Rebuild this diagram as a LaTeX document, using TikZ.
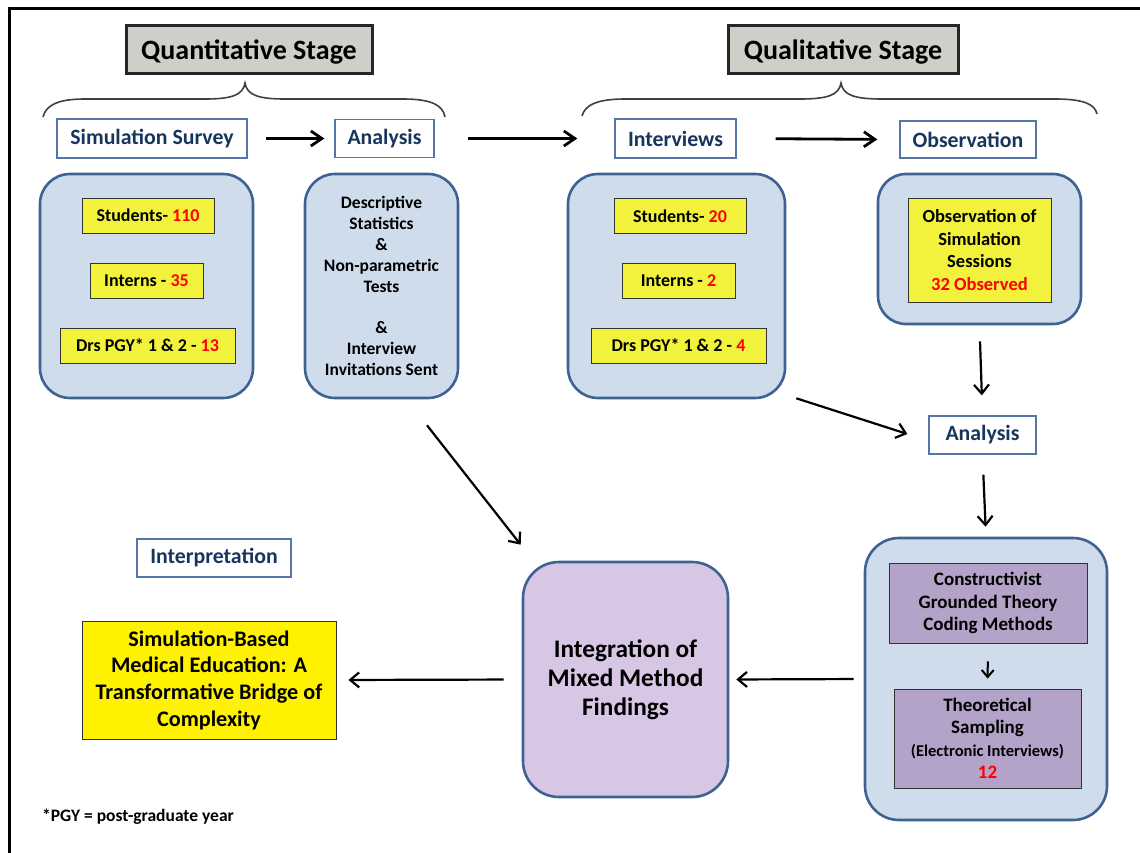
\documentclass[tikz,border=0pt]{standalone}
\usepackage{fontspec}
\setmainfont{Carlito}
\usetikzlibrary{arrows.meta,calc}

\definecolor{panelfill}{RGB}{207,220,236}
\definecolor{panelline}{RGB}{62,98,145}
\definecolor{lblline}{RGB}{84,118,168}
\definecolor{navy}{RGB}{23,54,93}
\definecolor{tagfill}{RGB}{242,242,60}
\definecolor{purpdark}{RGB}{179,163,201}
\definecolor{purplight}{RGB}{216,199,228}
\definecolor{hdrgray}{RGB}{208,206,201}

\begin{document}
\begin{tikzpicture}[x=1pt,y=-1pt,
  font=\bfseries,
  hdr/.style={draw=black!85, line width=3pt, fill=hdrgray, minimum height=48pt,
    inner sep=0pt, text depth=0pt, font=\fontsize{28}{32}\selectfont\bfseries},
  lbl/.style={draw=lblline, line width=1.3pt, fill=white, text=navy, inner sep=0pt,
    font=\fontsize{21.8}{25}\selectfont\bfseries},
  panel/.style={draw=panelline, line width=2.6pt, fill=panelfill, rounded corners=30pt,
    inner sep=0pt, align=center},
  tag/.style={draw=black!80, line width=0.9pt, fill=tagfill, inner sep=0pt,
    minimum height=35pt, font=\fontsize{18}{22}\selectfont\bfseries},
  pbox/.style={draw=black!80, line width=0.9pt, fill=purpdark, inner sep=0pt, align=center,
    font=\fontsize{19}{22.5}\selectfont\bfseries},
  arr/.style={line width=2.2pt, -{Straight Barb[length=9pt,width=15pt]}},
  arrS/.style={line width=2pt, -{Straight Barb[length=7pt,width=12pt]}},
  arrT/.style={line width=2.8pt, -{Straight Barb[length=11pt,width=15pt]}},
  bracepath/.style={line width=1.6pt, draw=black!75}
]
\useasboundingbox (0,0) rectangle (1140,853);

% outer frame (top and left edges)
\draw[line width=3pt] (9,853) -- (9,8.5) -- (1140,8.5);

% stage headers
\node[hdr, minimum width=246pt] (quant) at (249,50) {Quantitative Stage};
\node[hdr, minimum width=230pt] (qual) at (843,50) {Qualitative Stage};

% braces under the headers
\draw[bracepath] (43,117) .. controls (46,105) and (58,99) .. (85,99) -- (205,99)
  .. controls (232,99) and (243,95) .. (245,83)
  .. controls (247,95) and (258,99) .. (285,99) -- (403,99)
  .. controls (431,99) and (443,105) .. (445,117);
\draw[bracepath] (582,116) .. controls (585,105) and (597,99) .. (625,99) -- (800,99)
  .. controls (828,99) and (839,95) .. (841,83)
  .. controls (843,95) and (854,99) .. (882,99) -- (1055,99)
  .. controls (1083,99) and (1095,104) .. (1097,114);

% step labels
\node[lbl, minimum width=190pt, minimum height=39pt] (survey) at (152,138.5) {Simulation Survey};
\node[lbl, minimum width=99pt, minimum height=38pt] (an1) at (384.5,138.5) {Analysis};
\node[lbl, minimum width=121pt, minimum height=39pt] (interv) at (675.5,138.5) {Interviews};
\node[lbl, minimum width=136pt, minimum height=37pt] (observ) at (968,139.5) {Observation};
\node[lbl, minimum width=107pt, minimum height=38pt] (an2) at (982.5,435) {Analysis};
\node[lbl, minimum width=154pt, minimum height=38pt] (interp) at (214,558) {Interpretation};

% survey participants
\node[panel, minimum width=213pt, minimum height=224pt] (boxA) at (146.5,286) {};
\node[tag, minimum width=132pt] (sA1) at (148,215.5) {Students- \textcolor{red}{110}};
\node[tag, minimum width=113pt] (sA2) at (146.5,280.5) {Interns - \textcolor{red}{35}};
\node[tag, minimum width=175pt] (sA3) at (147.5,345.5) {Drs PGY* 1 \& 2 - \textcolor{red}{13}};

% quantitative analysis
\node[panel, minimum width=153pt, minimum height=224pt,
  font=\fontsize{17.5}{20.8}\selectfont\bfseries] (boxB) at (381.5,286)
  {Descriptive\\Statistics\\\&\\Non-parametric\\Tests\\\mbox{}\\\&\\Interview\\Invitations Sent};

% interview participants
\node[panel, minimum width=217pt, minimum height=224pt] (boxC) at (676.5,286) {};
\node[tag, minimum width=132pt] (sC1) at (680,216) {Students- \textcolor{red}{20}};
\node[tag, minimum width=113pt] (sC2) at (678.5,281) {Interns - \textcolor{red}{2}};
\node[tag, minimum width=175pt] (sC3) at (678.5,345.5) {Drs PGY* 1 \& 2 - \textcolor{red}{4}};

% observation sessions
\node[panel, rounded corners=28pt, minimum width=203pt, minimum height=150pt] (boxD) at (979.5,249) {};
\node[tag, minimum width=143pt, minimum height=104pt, align=center,
  font=\fontsize{18.5}{22.5}\selectfont\bfseries] (obsT) at (979.5,250)
  {Observation of\\Simulation\\Sessions\\\textcolor{red}{32 Observed}};

% grounded theory panel
\node[panel, rounded corners=34pt, minimum width=242pt, minimum height=282pt] (boxE) at (986,679) {};
\node[pbox, minimum width=198pt, minimum height=80pt] (p1) at (988,603)
  {Constructivist\\Grounded Theory\\Coding Methods};
\node[pbox, minimum width=187pt, minimum height=99pt] (p2) at (987.5,738.5)
  {Theoretical\\Sampling\\{\fontsize{16.5}{22.5}\selectfont(Electronic Interviews)}\\\textcolor{red}{12}};

% integration
\node[panel, fill=purplight, rounded corners=36pt, minimum width=205pt, minimum height=235pt,
  font=\fontsize{25.3}{29}\selectfont\bfseries] (boxF) at (625.5,679.5)
  {Integration of\\Mixed Method\\Findings};

% interpretation result
\node[draw=black!80, line width=0.9pt, fill=yellow, inner sep=0pt, align=center,
  minimum width=254pt, minimum height=118pt,
  font=\fontsize{22.2}{26.7}\selectfont\bfseries] (concl) at (209,680)
  {Simulation-Based\\Medical Education: A\\Transformative Bridge of\\Complexity};

% footnote
\node[anchor=west, inner sep=0pt, font=\fontsize{17.5}{20}\selectfont\bfseries] (foot) at (42,817)
  {*PGY = post-graduate year};

% flow arrows
\draw[arrT, shorten <=18pt, shorten >=10pt] (survey.east) -- (an1.west);
\draw[arrT, shorten <=33pt, shorten >=37pt] (an1.east) -- (interv.west);
\draw[arrT, shorten <=39pt, shorten >=22pt] (interv.east) -- (observ.west);

\draw[arr] ($(boxB.south)+(45.5,26)$) -- ($(boxF.north west)+(-1,-16)$);
\draw[arr] ($(boxC.south east)+(10,-1)$) -- ($(an2.west)+(-21,-1)$);
\draw[arr, shorten <=16pt, shorten >=20pt] (boxD.south) -- (an2.north);
\draw[arr, shorten <=20pt, shorten >=10pt] (an2.south) -- (boxE.north);
\draw[arrS, shorten <=18pt, shorten >=10pt] (p1.south) -- (p2.north);
\draw[arr, shorten <=10pt, shorten >=7pt] (boxE.west) -- (boxF.east);
\draw[arr, shorten <=18pt, shorten >=12pt] (boxF.west) -- (concl.east);

\end{tikzpicture}
\end{document}
